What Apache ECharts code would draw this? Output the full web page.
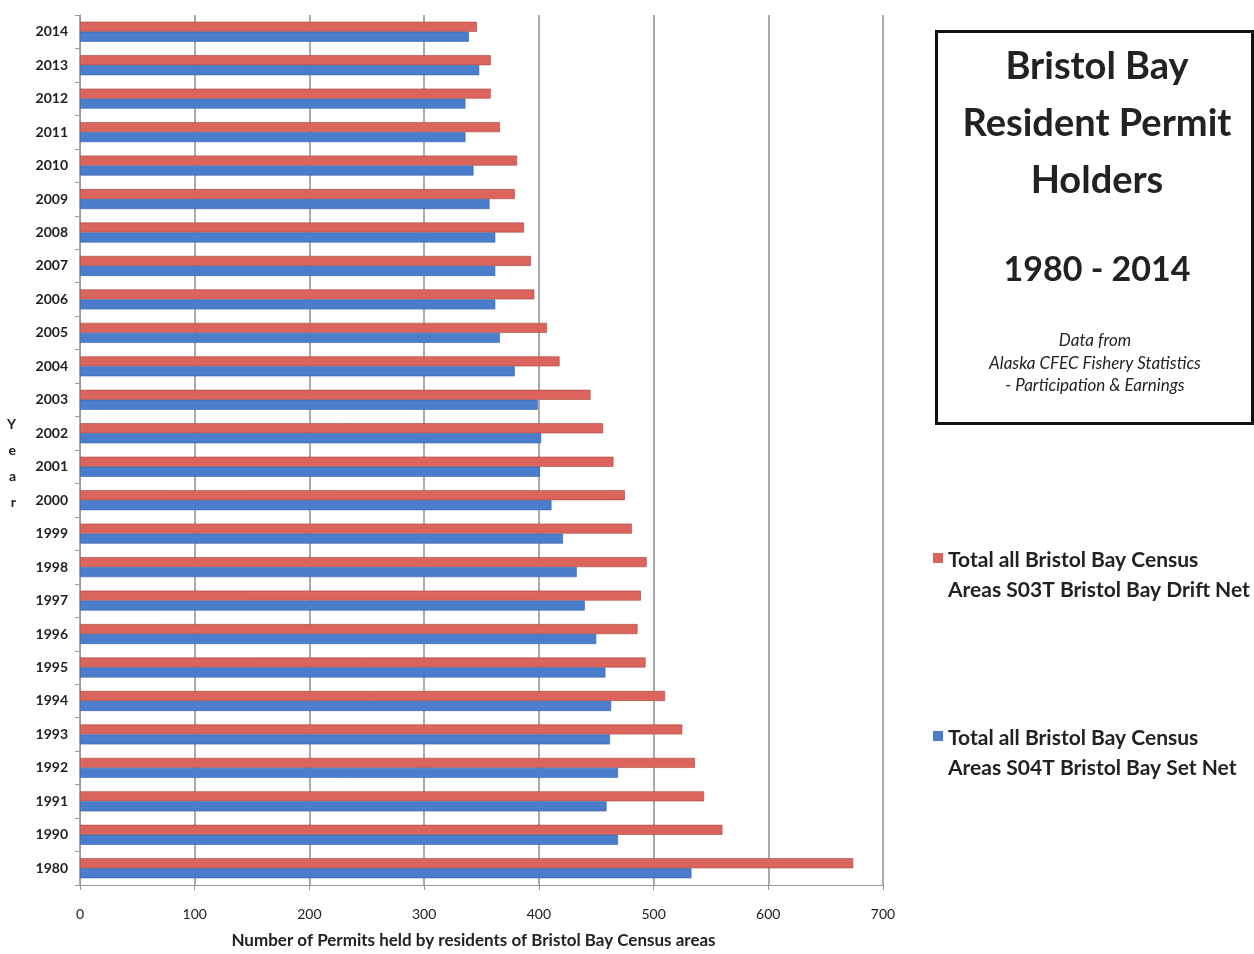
<!DOCTYPE html>
<html>
<head>
<meta charset="utf-8">
<script src="https://cdn.jsdelivr.net/npm/echarts@6/dist/echarts.min.js"></script>
<style>
html,body{margin:0;padding:0;background:#fff;}
#chart{width:1254px;height:954px;}
</style>
</head>
<body>
<div id="chart"></div>
<script>
const years = ['2014','2013','2012','2011','2010','2009','2008','2007','2006','2005','2004','2003','2002','2001','2000','1999','1998','1997','1996','1995','1994','1993','1992','1991','1990','1980'];
const driftNet = [346,358,358,366,381,379,387,393,396,407,418,445,456,465,475,481,494,489,486,493,510,525,536,544,560,674];
const setNet = [339,348,336,336,343,357,362,362,362,366,379,399,402,401,411,421,433,440,450,458,463,462,469,459,469,533];
const xTicks = [0,100,200,300,400,500,600,700];
const driftName = 'Total all Bristol Bay Census\nAreas S03T Bristol Bay Drift Net';
const setName = 'Total all Bristol Bay Census\nAreas S04T Bristol Bay Set Net';

const FONT = 'Lato, "Open Sans", sans-serif';
const chart = echarts.init(document.getElementById('chart'));
chart.setOption({
  backgroundColor: '#ffffff',
  animation: false,
  textStyle: { fontFamily: FONT },
  grid: { left: 80, top: 15, width: 803, height: 872 },
  legend: {
    orient: 'vertical',
    left: 928,
    top: 540,
    itemGap: 118,
    icon: 'path://M0,0H10V10H0Z M0,44L0,44',
    itemWidth: 10,
    itemHeight: 44,
    itemStyle: { borderWidth: 0 },
    textStyle: { fontFamily: FONT, fontWeight: 'bold', fontSize: 21, color: '#222', lineHeight: 30 },
    data: [driftName, setName]
  },
  xAxis: {
    type: 'value',
    min: 0, max: 700, interval: 100,
    name: 'Number of Permits held by residents of Bristol Bay Census areas',
    nameLocation: 'middle',
    nameGap: 47,
    nameTextStyle: { fontFamily: FONT, fontWeight: 'bold', fontSize: 17, color: '#222', padding: [0, 16, 0, 0] },
    axisLine: { show: true, lineStyle: { color: '#999' } },
    axisTick: { show: true, length: 5, lineStyle: { color: '#999' } },
    axisLabel: { fontFamily: FONT, fontSize: 14, color: '#222', margin: 22,
      formatter: v => xTicks.includes(v) ? String(v) : '' },
    splitLine: { show: true, lineStyle: { color: '#8f8f8f', width: 1.5 } }
  },
  yAxis: {
    type: 'category',
    inverse: true,
    data: years,
    name: '\nY\ne\na\nr',
    nameLocation: 'middle',
    nameRotate: 0,
    nameGap: 64,
    nameTextStyle: { fontFamily: FONT, fontWeight: 'bold', fontSize: 14, color: '#222', lineHeight: 26 },
    axisLine: { show: true, lineStyle: { color: '#999' } },
    axisTick: { show: true, length: 5, lineStyle: { color: '#999' } },
    axisLabel: { fontFamily: FONT, fontSize: 14, fontWeight: 'bold', color: '#222', margin: 12 },
    splitLine: { show: false }
  },
  series: [
    {
      name: driftName, type: 'bar', data: driftNet,
      barWidth: 10, barGap: '0%',
      itemStyle: { color: '#db655d', borderColor: '#a8443e', borderWidth: 0.6 }
    },
    {
      name: setName, type: 'bar', data: setNet,
      barWidth: 10, barGap: '0%',
      itemStyle: { color: '#4a7dcc', borderColor: '#3561a8', borderWidth: 0.6 }
    }
  ],
  graphic: [
    { type: 'rect', left: 935, top: 30, shape: { width: 316, height: 392 },
      style: { fill: '#fff', stroke: '#111', lineWidth: 3 } },
    { type: 'text', x: 1097, y: 67, style: { text: 'Bristol Bay', font: 'bold 38px ' + FONT, fill: '#222', align: 'center', verticalAlign: 'middle' } },
    { type: 'text', x: 1097, y: 124, style: { text: 'Resident Permit', font: 'bold 38px ' + FONT, fill: '#222', align: 'center', verticalAlign: 'middle' } },
    { type: 'text', x: 1097, y: 181, style: { text: 'Holders', font: 'bold 38px ' + FONT, fill: '#222', align: 'center', verticalAlign: 'middle' } },
    { type: 'text', x: 1097, y: 270, style: { text: '1980 - 2014', font: 'bold 34px ' + FONT, fill: '#222', align: 'center', verticalAlign: 'middle' } },
    { type: 'text', x: 1095, y: 341, style: { text: 'Data from', font: 'italic 17px ' + FONT, fill: '#222', align: 'center', verticalAlign: 'middle' } },
    { type: 'text', x: 1095, y: 364, style: { text: 'Alaska CFEC Fishery Statistics', font: 'italic 17px ' + FONT, fill: '#222', align: 'center', verticalAlign: 'middle' } },
    { type: 'text', x: 1095, y: 386, style: { text: '- Participation & Earnings', font: 'italic 17px ' + FONT, fill: '#222', align: 'center', verticalAlign: 'middle' } }
  ]
});
</script>
</body>
</html>
